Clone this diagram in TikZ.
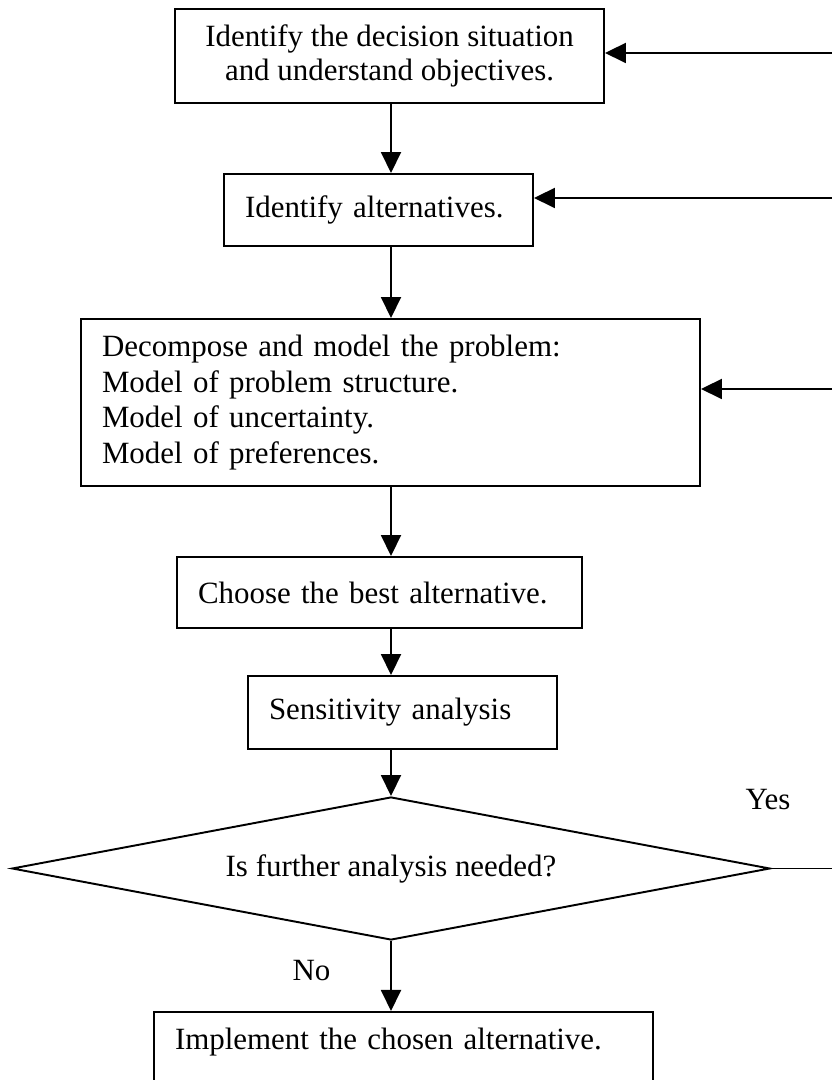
\documentclass[tikz,border=0pt]{standalone}
\usepackage{fontspec}
\setmainfont{Liberation Serif}
\usetikzlibrary{arrows.meta,shapes.geometric}

\begin{document}
\begin{tikzpicture}[
        font=\fontsize{17.6}{19}\selectfont,
        stepbox/.style={draw, line width=1.1pt, inner xsep=0.42cm, inner ysep=0pt, align=left},
        flow/.style={line width=1.1pt, -{Triangle[length=0.42cm, width=0.4cm]}},
    ]
        \useasboundingbox (0,0) rectangle (16.62,21.6);

        \coordinate (axis) at (7.82,0);
        \coordinate (back1) at (16.8,20.54);
        \coordinate (back2) at (16.8,17.64);
        \coordinate (back3) at (16.8,13.82);

        \node[stepbox, align=center, minimum width=8.58cm, minimum height=1.88cm] (situation) at (7.79,20.48) {Identify the decision situation\\and understand objectives.};
        \node[stepbox, text width=5.34cm, minimum height=1.44cm] (alternatives) at (7.57,17.4) {Identify alternatives.};
        \node[stepbox, text width=11.54cm, minimum height=3.34cm] (model) at (7.81,13.55) {Decompose and model the problem:\\[1.4pt]Model of problem structure.\\[1.4pt]Model of uncertainty.\\[1.4pt]Model of preferences.};
        \node[stepbox, text width=7.26cm, minimum height=1.42cm] (choose) at (7.59,9.75) {Choose the best alternative.};
        \node[stepbox, text width=5.34cm, minimum height=1.46cm] (sensitivity) at (8.05,7.35) {Sensitivity analysis};
        \node[diamond, draw, line width=1.1pt, aspect=5.3, inner sep=0pt, minimum width=15.16cm, minimum height=2.86cm] (further) at (7.82,4.23) {Is further analysis needed?};
        \node[stepbox, anchor=north, text width=9.14cm, inner ysep=0.3cm, text height=0.45cm, text depth=1.2cm] (implement) at (8.07,1.38) {Implement the chosen alternative.};

        \node (yes) at (15.36,5.6) {Yes};
        \node (no) at (6.23,2.18) {No};

        \draw[flow] (situation.south -| axis) -- (alternatives.north -| axis);
        \draw[flow] (alternatives.south -| axis) -- (model.north -| axis);
        \draw[flow] (model.south -| axis) -- (choose.north -| axis);
        \draw[flow] (choose.south -| axis) -- (sensitivity.north -| axis);
        \draw[flow] (sensitivity.south -| axis) -- (further.north);
        \draw[flow] (further.south) -- (implement.north -| axis);

        \draw[flow] (back1) -- (back1 -| situation.east);
        \draw[flow] (back2) -- (back2 -| alternatives.east);
        \draw[flow] (back3) -- (back3 -| model.east);
        \draw[line width=1.1pt] (further.east) -- (further.east -| back1);

\end{tikzpicture}
\end{document}
